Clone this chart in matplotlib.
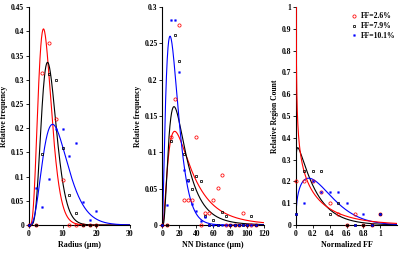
import numpy as np
import matplotlib
matplotlib.use('Agg')
import matplotlib.pyplot as plt

plt.rcParams['font.family'] = ['Liberation Serif', 'DejaVu Serif']
plt.rcParams['font.weight'] = 'bold'
plt.rcParams['font.size'] = 5.5

labels = ['FF=2.6%', 'FF=7.9%', 'FF=10.1%']
colors = ['#ff0000', '#000000', '#0000ff']

# Radius histogram
radius_x = [0, 2, 4, 6, 8, 10, 12, 14, 16, 18, 20]
radius_red = [0, 0, 0.313, 0.375, 0.219, 0.094, 0, 0, 0, 0, 0]
radius_black = [0, 0, 0.147, 0.311, 0.299, 0.159, 0.062, 0.025, 0, 0, 0]
radius_blue = [0, 0.076, 0.038, 0.095, 0.199, 0.198, 0.142, 0.170, 0.048, 0.010, 0.029]
# fitted curves: peak, mode, p, q
radius_fit = [(0.405, 4.3, 4.7, 1.0), (0.336, 5.5, 6.0, 1.0), (0.208, 7.0, 3.5, 1.0)]

# NN distance histogram
nn_x = [0, 5, 10, 15, 20, 25, 30, 35, 40, 45, 50, 55, 60, 65, 70, 75, 80, 85, 90, 95, 100, 105, 110]
nn_red = [0, 0, 0.121, 0.173, 0.276, 0.034, 0.034, 0.034, 0.121, 0, 0.017, 0.017,
          0.034, 0.051, 0.069, 0, 0, 0, 0, 0.017, 0, 0, 0]
nn_black = [0, 0, 0.116, 0.262, 0.226, 0.098, 0.062, 0.049, 0.067, 0.061, 0.013, 0,
            0.007, 0, 0.018, 0.012, 0, 0, 0, 0, 0, 0.012, 0]
nn_blue = [0, 0.028, 0.282, 0.282, 0.210, 0.076, 0.061, 0.029, 0.020, 0.006, 0.011, 0,
           0, 0, 0, 0, 0, 0, 0, 0, 0, 0, 0]
nn_fit = [(0.129, 14.5, 4.4, 0.3), (0.163, 13.7, 7.8, 0.25), (0.26, 9.0, 1.45, 1.0)]

# normalized FF histogram
ff_x = [0, 0.1, 0.2, 0.3, 0.4, 0.5, 0.6, 0.7, 0.8, 0.9, 1.0]
ff_red = [0.2, 0.2, 0.2, 0.15, 0.1, 0.05, 0, 0.05, 0, 0, 0.05]
ff_black = [0.05, 0.25, 0.25, 0.25, 0.05, 0.1, 0, 0, 0, 0, 0.05]
ff_blue = [0.05, 0.1, 0.2, 0.15, 0.15, 0.15, 0.1, 0, 0.05, 0, 0.05]
ff_red_fit = (0.155, -0.3, 0.4)  # a, p, s  (decaying)
ff_fit = [None, (0.355, 0.02, 0.1, 1.0), (0.215, 0.15, 0.35, 1.5)]


def peaked(x, peak, mode, p, q):
    r = x / mode
    return peak * r**p * np.exp(p / q * (1 - r**q))


def decay(x, a, p, s):
    return a * x**p * np.exp(-x / s)


styles = [dict(marker='o', mfc='none', ms=2.3, mew=0.55),
          dict(marker='s', mfc='none', ms=1.8, mew=0.55),
          dict(marker='s', ms=1.2, mew=0.3)]

fig = plt.figure(figsize=(4.0, 2.54), dpi=100)
ax1 = fig.add_axes([0.0725, 0.114, 0.2525, 0.858])
ax2 = fig.add_axes([0.406, 0.114, 0.2545, 0.858])
ax3 = fig.add_axes([0.74, 0.114, 0.2525, 0.858])

panels = [
    (ax1, radius_x, [radius_red, radius_black, radius_blue], np.linspace(0, 30, 600), (0, 30), (0, 0.45),
     [0, 10, 20, 30], np.arange(0, 0.451, 0.05), 'Radius (μm)', 'Relative frequency'),
    (ax2, nn_x, [nn_red, nn_black, nn_blue], np.linspace(0, 120, 800), (0, 120), (0, 0.3),
     np.arange(0, 121, 20), np.arange(0, 0.301, 0.05), 'NN Distance (μm)', 'Relative frequency'),
    (ax3, ff_x, [ff_red, ff_black, ff_blue], np.linspace(0, 1.2, 2000), (0, 1.2), (0, 1.0),
     np.arange(0, 1.01, 0.2), np.arange(0, 1.01, 0.1), 'Normalized FF', 'Relative Region Count'),
]
fits = [radius_fit, nn_fit, ff_fit]

for i, (ax, xs, series, xx, xlim, ylim, xt, yt, xl, yl) in enumerate(panels):
    for j in range(3):
        if i == 2 and j == 0:
            xr = np.concatenate([[0.004, 0.004], np.linspace(0.0045, 1.2, 3000)])
            yy = decay(xr, *ff_red_fit)
            yy[0] = 1.0
            ax.plot(xr, yy, color=colors[j], lw=0.8, zorder=3)
        else:
            ax.plot(xx, peaked(xx, *fits[i][j]), color=colors[j], lw=0.8)
    for j in range(3):
        ax.plot(xs, series[j], ls='none', color=colors[j], clip_on=False,
                label=labels[j], zorder=4, **styles[j])
    ax.set_xlim(*xlim)
    ax.set_ylim(*ylim)
    ax.set_xticks(xt)
    ax.set_yticks(yt)
    ax.xaxis.set_major_formatter(matplotlib.ticker.FormatStrFormatter('%g'))
    ax.yaxis.set_major_formatter(matplotlib.ticker.FormatStrFormatter('%g'))
    ax.spines['top'].set_visible(False)
    ax.spines['right'].set_visible(False)
    for s in ['left', 'bottom']:
        ax.spines[s].set_linewidth(0.8)
    ax.tick_params(direction='out', length=2, width=0.6, pad=1.5, labelsize=5.5)
    ax.set_xlabel(xl, fontweight='bold', fontsize=5.8, labelpad=2)
    ax.set_ylabel(yl, fontweight='bold', fontsize=5.5, labelpad=2)

ax3.legend(loc='upper right', bbox_to_anchor=(1.02, 0.99), frameon=False, fontsize=5.5,
           handlelength=0.8, handletextpad=0.6, labelspacing=0.25, borderaxespad=0)

fig.savefig('out.png', dpi=100)
